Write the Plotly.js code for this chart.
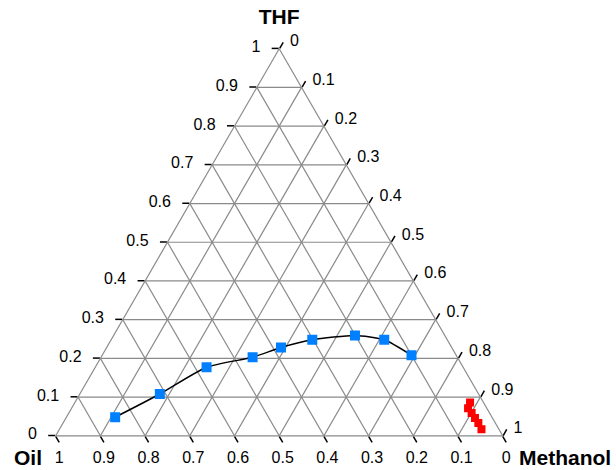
<!DOCTYPE html>
<html>
<head>
<meta charset="utf-8">
<script src="https://cdn.plot.ly/plotly-3.0.1.min.js"></script>
<style>html,body{margin:0;padding:0;background:#fff;}#chart{width:616px;height:470px;}</style>
</head>
<body>
<div id="chart"></div>
<script>
// Binodal curve (blue) compositions
var binodalTHF      = [0.048, 0.108, 0.177, 0.203, 0.228, 0.248, 0.259, 0.248, 0.208];
var binodalOil      = [0.843, 0.713, 0.574, 0.458, 0.382, 0.302, 0.201, 0.141, 0.100];
var binodalMethanol = [0.109, 0.179, 0.249, 0.339, 0.390, 0.450, 0.540, 0.611, 0.692];

// Methanol-rich phase (red) compositions
var richTHF      = [0.086, 0.071, 0.059, 0.046, 0.033, 0.017];
var richOil      = [0.030, 0.042, 0.040, 0.039, 0.038, 0.039];
var richMethanol = [0.884, 0.887, 0.901, 0.915, 0.929, 0.944];

var axisTitles = {a: 'THF', b: 'Oil', c: 'Methanol'};

var fontFam = 'Arial, "Liberation Sans", sans-serif';
var NB = '\u00a0';
function axisStyle(title, extra) {
  var o = {
    title: {text: title ? '<b>' + title + '</b>' : '', font: {family: fontFam, size: 21, color: '#000'}},
    min: 0,
    dtick: 0.1,
    tick0: 0,
    ticks: 'outside',
    ticklen: 7,
    tickwidth: 1.5,
    tickcolor: '#000',
    tickfont: {family: fontFam, size: 16, color: '#000'},
    showgrid: true,
    gridcolor: '#8a8a8a',
    gridwidth: 1.2,
    showline: true,
    linecolor: '#8a8a8a',
    linewidth: 1.2
  };
  for (var k in extra) o[k] = extra[k];
  return o;
}

var traces = [
  {
    type: 'scatterternary',
    mode: 'lines+markers',
    a: binodalTHF, b: binodalOil, c: binodalMethanol,
    line: {color: '#000', width: 1.5, shape: 'spline', smoothing: 0.6},
    marker: {symbol: 'square', size: 10, color: 'rgb(0,128,255)', line: {width: 0}},
    showlegend: false
  },
  {
    type: 'scatterternary',
    mode: 'markers',
    a: richTHF, b: richOil, c: richMethanol,
    marker: {symbol: 'square', size: 8, color: 'rgb(255,0,0)', line: {width: 0}},
    showlegend: false
  }
];

var layout = {
  width: 616, height: 470,
  margin: {l: 0, r: 0, t: 0, b: 0},
  paper_bgcolor: '#fff',
  font: {family: fontFam, size: 16, color: '#000'},
  showlegend: false,
  ternary: {
    sum: 1,
    domain: {x: [55.7/616, 502.7/616], y: [34/470, 421.5/470]},
    bgcolor: '#fff',
    aaxis: axisStyle(axisTitles.a, {ticksuffix: NB + NB}),
    baxis: axisStyle('', {}),
    caxis: axisStyle('', {tickprefix: NB})
  },
  annotations: [
    {text: '<b>' + axisTitles.b + '</b>', xref: 'paper', yref: 'paper',
     x: 28/616, y: 0, xanchor: 'center', yanchor: 'bottom', showarrow: false,
     borderpad: 0, font: {family: fontFam, size: 21, color: '#000'}},
    {text: '<b>' + axisTitles.c + '</b>', xref: 'paper', yref: 'paper',
     x: 612/616, y: 0, xanchor: 'right', yanchor: 'bottom', showarrow: false,
     borderpad: 0, font: {family: fontFam, size: 21, color: '#000'}}
  ]
};

Plotly.newPlot('chart', traces, layout, {displayModeBar: false, staticPlot: true});
</script>
</body>
</html>
